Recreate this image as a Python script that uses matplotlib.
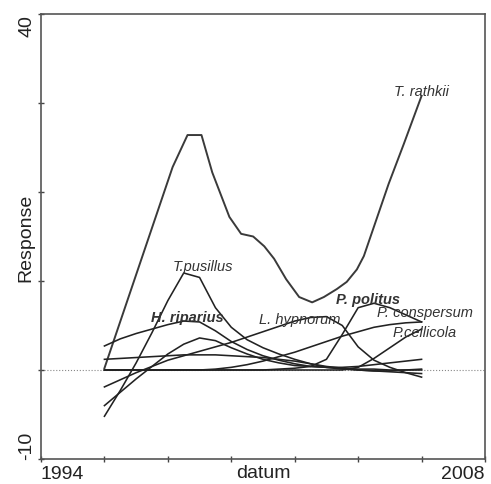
import matplotlib
matplotlib.use("Agg")
import matplotlib.pyplot as plt

plt.rcParams['font.family'] = ['Liberation Sans', 'DejaVu Sans']

# half-year grid used by most response curves
years = [1996, 1996.5, 1997, 1997.5, 1998, 1998.5, 1999, 1999.5, 2000, 2000.5, 2001,
         2001.5, 2002, 2002.5, 2003, 2003.5, 2004, 2004.5, 2005, 2005.5, 2006]

# T. rathkii is read at its own (irregular) points
rathkii_x = [1996, 1997.17, 1998.15, 1998.62, 1999.06, 1999.40, 1999.94, 2000.31, 2000.69,
             2001.04, 2001.35, 2001.73, 2002.14, 2002.55, 2002.92, 2003.33, 2003.64, 2003.96,
             2004.18, 2004.96, 2005.44, 2006]
rathkii_y = [0.2, 12.5, 22.8, 26.4, 26.4, 22.2, 17.2, 15.3, 15.0, 13.9, 12.5, 10.2, 8.2, 7.6,
             8.2, 9.1, 9.9, 11.3, 12.8, 20.9, 25.4, 30.8]

pusillus = [-5.2, -2.3, 0.8, 4.2, 7.8, 10.9, 10.4, 7.0, 4.8, 3.4, 2.5,
            1.8, 1.2, 0.7, 0.3, 0.1, 0.0, -0.1, -0.2, -0.3, -0.4]
riparius = [2.7, 3.5, 4.1, 4.6, 5.1, 5.5, 5.4, 4.4, 3.2, 2.3, 1.6,
            1.1, 0.7, 0.4, 0.3, 0.2, 0.1, 0.1, 0.0, 0.0, 0.0]
unlab1 = [-4.0, -2.5, -1.0, 0.4, 1.8, 2.9, 3.6, 3.3, 2.5, 1.8, 1.2,
          0.8, 0.5, 0.4, 0.3, 0.3, 0.4, 0.6, 0.8, 1.0, 1.2]
unlab2 = [1.2, 1.3, 1.4, 1.5, 1.6, 1.7, 1.7, 1.7, 1.6, 1.5, 1.4,
          1.2, 1.0, 0.7, 0.4, 0.2, 0.0, -0.1, -0.1, 0.0, 0.1]
hypnorum = [-1.9, -1.1, -0.3, 0.4, 1.1, 1.6, 2.1, 2.6, 3.1, 3.7, 4.3,
            4.9, 5.5, 5.9, 6.0, 5.0, 2.6, 1.1, 0.3, -0.3, -0.8]
politus = [0.0, 0.0, 0.0, 0.0, 0.0, 0.0, 0.0, 0.0, 0.0, 0.0, 0.0,
           0.1, 0.2, 0.4, 1.2, 4.0, 7.0, 7.5, 7.0, 6.2, 5.4]
conspersum = [0.0, 0.0, 0.0, 0.0, 0.0, 0.0, 0.0, 0.1, 0.3, 0.6, 1.0,
              1.5, 2.0, 2.6, 3.2, 3.8, 4.3, 4.8, 5.1, 5.3, 5.4]
cellicola = [0.0, 0.0, 0.0, 0.0, 0.0, 0.0, 0.0, 0.0, 0.0, 0.0, 0.0,
             0.0, 0.0, 0.0, 0.0, 0.0, 0.3, 1.3, 2.5, 3.7, 4.6]

# species labels: text, x, y, bold
labels = [
    ('T. rathkii', 2006.0, 31.3, False),
    ('T.pusillus', 1999.1, 11.7, False),
    ('H. riparius', 1998.6, 6.0, True),
    ('L. hypnorum', 2002.15, 5.7, False),
    ('P. politus', 2004.3, 8.0, True),
    ('P. conspersum', 2006.1, 6.5, False),
    ('P.cellicola', 2006.1, 4.3, False),
]

fig = plt.figure(figsize=(4.91, 4.85), dpi=100)
ax = fig.add_axes([41 / 491, 25 / 485, 444 / 491, 445 / 485])

ax.axhline(0, color='#888888', lw=0.8, ls=':', zorder=1)

lc = '#222222'
ax.plot(rathkii_x, rathkii_y, color='#3a3a3a', lw=1.4)
for ys in [pusillus, riparius, unlab1, unlab2, hypnorum, politus, conspersum, cellicola]:
    ax.plot(years, ys, color=lc, lw=1.15)

for txt, x, y, bold in labels:
    ax.text(x, y, txt, ha='center', va='center', fontsize=10.5, style='italic',
            fontweight='bold' if bold else 'normal', color='#333333')

ax.set_xlim(1994, 2008)
ax.set_ylim(-10, 40)

xt = list(range(1994, 2009, 2))
ax.set_xticks(xt, ['1994'] + [''] * (len(xt) - 2) + ['2008'])
yt = [-10, 0, 10, 20, 30, 40]
ax.set_yticks(yt, ['-10', '', '', '', '', '40'], rotation=90)

xl = ax.get_xticklabels()
xl[0].set_ha('left')
xl[-1].set_ha('right')
yl = ax.get_yticklabels()
yl[0].set_va('bottom')
yl[-1].set_va('top')

ax.tick_params(direction='inout', length=4, width=1, color='#444444',
               labelsize=14, labelcolor='#222222', pad=2)
for yl_ in yl:
    yl_.set_ha('center')
ax.tick_params(axis='y', pad=8)

for s in ax.spines.values():
    s.set_color('#555555')
    s.set_linewidth(1.2)

ax.set_xlabel('datum', fontsize=14, color='#222222')
ax.xaxis.set_label_coords(0.5, -0.012)
ax.xaxis.label.set_va('top')
ax.set_ylabel('Response', fontsize=14, color='#222222')
ax.yaxis.set_label_coords(-0.035, 0.5)
ax.yaxis.label.set_va('center')

fig.savefig('out.png', dpi=100)
